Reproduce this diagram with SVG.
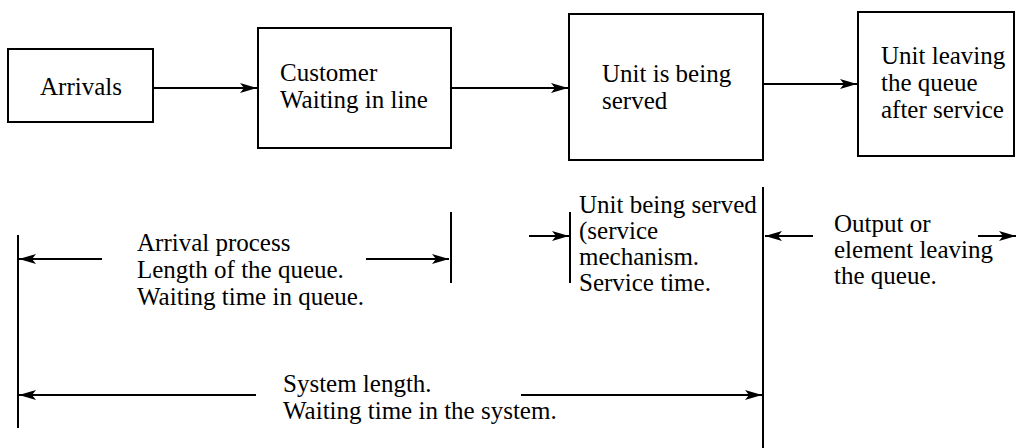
<svg xmlns="http://www.w3.org/2000/svg" width="1016" height="448" viewBox="0 0 1016 448">
<defs>
<style>
.box{fill:#fff;stroke:#000;stroke-width:2}
.ln{stroke:#000;stroke-width:2;fill:none}
.arr{stroke:#000;stroke-width:2;fill:none;marker-end:url(#ah)}
.t{font-family:'Liberation Serif',Tinos,'Times New Roman',serif;font-size:25px;fill:#000}
</style>
<marker id="ah" markerUnits="userSpaceOnUse" markerWidth="20" markerHeight="12" refX="17" refY="5" orient="auto">
<path d="M0,0 L17,5 L0,10 L4,5 z" fill="#000"/>
</marker>
</defs>
<rect width="1016" height="448" fill="#fff"/>
<g id="arrivals">
<rect class="box" x="8" y="49" width="145" height="73"/>
<text class="t" font-family="Liberation Serif" x="40" y="95">Arrivals</text>
</g>
<g id="waiting">
<rect class="box" x="258" y="28" width="193" height="120"/>
<text class="t" font-family="Liberation Serif" x="280" y="81">Customer</text>
<text class="t" font-family="Liberation Serif" x="280" y="108">Waiting in line</text>
</g>
<g id="served">
<rect class="box" x="569" y="14" width="194" height="146"/>
<text class="t" font-family="Liberation Serif" x="602" y="82">Unit is being</text>
<text class="t" font-family="Liberation Serif" x="602" y="109">served</text>
</g>
<g id="leaving">
<rect class="box" x="858" y="12" width="156" height="144"/>
<text class="t" font-family="Liberation Serif" x="881" y="64">Unit leaving</text>
<text class="t" font-family="Liberation Serif" x="881" y="91">the queue</text>
<text class="t" font-family="Liberation Serif" x="881" y="118">after service</text>
</g>
<g id="connectors">
<line class="arr" x1="153" y1="88" x2="257" y2="88"/>
<line class="arr" x1="451" y1="88" x2="568" y2="88"/>
<line class="arr" x1="763" y1="84" x2="857" y2="84"/>
</g>
<g id="annotations">
<line class="ln" x1="18" y1="235" x2="18" y2="428"/>
<line class="arr" x1="102" y1="259" x2="19" y2="259"/>
<line class="arr" x1="366" y1="259" x2="449" y2="259"/>
<line class="ln" x1="451" y1="212" x2="451" y2="283"/>
<text class="t" font-family="Liberation Serif" x="137" y="251">Arrival process</text>
<text class="t" font-family="Liberation Serif" x="137" y="278">Length of the queue.</text>
<text class="t" font-family="Liberation Serif" x="137" y="305">Waiting time in queue.</text>
<line class="arr" x1="529" y1="236" x2="569" y2="236"/>
<line class="ln" x1="570" y1="212" x2="570" y2="283"/>
<text class="t" font-family="Liberation Serif" x="579" y="213">Unit being served</text>
<text class="t" font-family="Liberation Serif" x="579" y="239">(service</text>
<text class="t" font-family="Liberation Serif" x="579" y="265">mechanism.</text>
<text class="t" font-family="Liberation Serif" x="579" y="291">Service time.</text>
<line class="ln" x1="763" y1="187" x2="763" y2="448"/>
<line class="arr" x1="813" y1="236" x2="765" y2="236"/>
<line class="arr" x1="978" y1="236" x2="1016" y2="236"/>
<text class="t" font-family="Liberation Serif" x="834" y="232">Output or</text>
<text class="t" font-family="Liberation Serif" x="834" y="258">element leaving</text>
<text class="t" font-family="Liberation Serif" x="834" y="284">the queue.</text>
<line class="arr" x1="256" y1="395" x2="19" y2="395"/>
<line class="arr" x1="521" y1="395" x2="762" y2="395"/>
<text class="t" font-family="Liberation Serif" x="283" y="392">System length.</text>
<text class="t" font-family="Liberation Serif" x="283" y="419">Waiting time in the system.</text>
</g>
</svg>
